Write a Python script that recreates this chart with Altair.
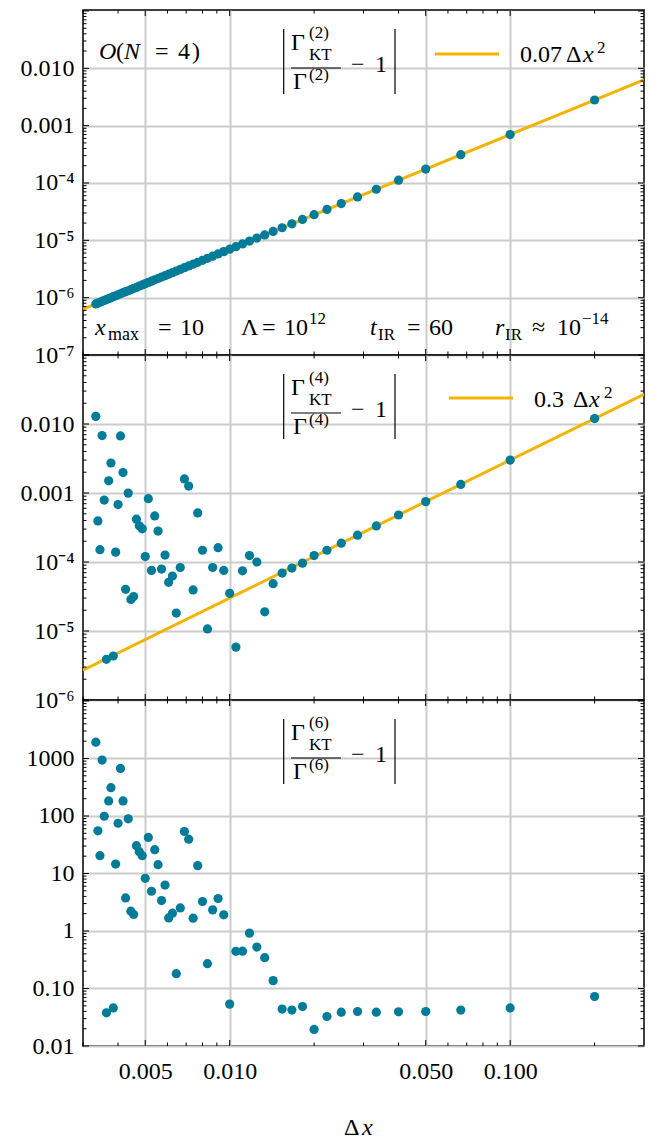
import altair as alt
import pandas as pd

# ---------------- data ----------------
dx = [0.2, 0.1, 0.066667, 0.05, 0.04, 0.033333, 0.028571, 0.025, 0.022222, 0.02,
      0.018182, 0.016667, 0.015385, 0.014286, 0.013333, 0.0125, 0.011765, 0.011111, 0.010526, 0.01,
      0.0095238, 0.0090909, 0.0086957, 0.0083333, 0.008, 0.0076923, 0.0074074, 0.0071429, 0.0068966, 0.0066667,
      0.0064516, 0.00625, 0.0060606, 0.0058824, 0.0057143, 0.0055556, 0.0054054, 0.0052632, 0.0051282, 0.005,
      0.004878, 0.0047619, 0.0046512, 0.0045455, 0.0044444, 0.0043478, 0.0042553, 0.0041667, 0.0040816, 0.004,
      0.0039216, 0.0038462, 0.0037736, 0.0037037, 0.0036364, 0.0035714, 0.0035088, 0.0034483, 0.0033898, 0.0033333]

err2 = [2.8e-3, 7.0e-4, 3.11e-4, 1.75e-4, 1.12e-4, 7.78e-5, 5.71e-5, 4.375e-5, 3.457e-5, 2.8e-5,
        2.314e-5, 1.944e-5, 1.657e-5, 1.429e-5, 1.244e-5, 1.094e-5, 9.69e-6, 8.64e-6, 7.76e-6, 7.0e-6,
        6.35e-6, 5.79e-6, 5.29e-6, 4.86e-6, 4.48e-6, 4.14e-6, 3.84e-6, 3.57e-6, 3.33e-6, 3.11e-6,
        2.91e-6, 2.73e-6, 2.57e-6, 2.42e-6, 2.29e-6, 2.16e-6, 2.05e-6, 1.94e-6, 1.84e-6, 1.75e-6,
        1.67e-6, 1.59e-6, 1.51e-6, 1.45e-6, 1.38e-6, 1.32e-6, 1.27e-6, 1.22e-6, 1.17e-6, 1.12e-6,
        1.08e-6, 1.04e-6, 9.97e-7, 9.60e-7, 9.26e-7, 8.93e-7, 8.62e-7, 8.32e-7, 8.04e-7, 7.78e-7]

err4 = [1.2e-2, 3.0e-3, 1.33e-3, 7.5e-4, 4.8e-4, 3.33e-4, 2.45e-4, 1.875e-4, 1.48e-4, 1.24e-4,
        9.63e-5, 8.16e-5, 6.92e-5, 4.85e-5, 1.90e-5, 1.00e-4, 1.24e-4, 7.46e-5, 5.84e-6, 3.52e-5,
        7.54e-5, 1.61e-4, 8.32e-5, 1.07e-5, 1.48e-4, 5.14e-4, 3.94e-5, 1.26e-3, 1.60e-3, 8.32e-5,
        1.82e-5, 6.26e-5, 5.07e-5, 1.26e-4, 7.89e-5, 2.81e-4, 4.65e-4, 7.54e-5, 8.28e-4, 1.20e-4,
        3.03e-4, 3.34e-4, 4.17e-4, 3.16e-5, 2.86e-5, 9.96e-4, 4.02e-5, 1.98e-3, 6.72e-3, 6.79e-4,
        1.39e-4, 4.34e-6, 2.72e-3, 1.50e-3, 3.89e-6, 7.9e-4, 6.79e-3, 1.51e-4, 3.94e-4, 1.29e-2]

err6 = [0.0723, 0.046, 0.0421, 0.0398, 0.0393, 0.0388, 0.0398, 0.0388, 0.0326, 0.0194,
        0.0485, 0.0421, 0.0438, 0.137, 0.343, 0.525, 0.918, 0.446, 0.443, 0.0535,
        1.91, 3.66, 2.33, 0.27, 3.25, 13.7, 1.67, 39.5, 53.7, 2.52,
        0.181, 2.04, 1.69, 6.3, 3.38, 14.2, 25.9, 4.91, 42.3, 8.24,
        20.4, 23.9, 30.4, 1.94, 2.21, 89.2, 3.75, 183, 671, 74.8,
        14.6, 0.046, 311, 183, 0.0378, 98.9, 938, 20.4, 55.2, 1923]

fit_coef_2 = 0.07
fit_coef_4 = 0.3

x_domain = [0.003, 0.3]
x_major = [0.005, 0.01, 0.05, 0.1]
x_minor = [0.003, 0.004, 0.006, 0.007, 0.008, 0.009, 0.02, 0.03, 0.04, 0.06, 0.07, 0.08, 0.09, 0.2]

y1_domain = [1e-7, 0.104]
y2_domain = [1e-6, 0.1]
y3_domain = [0.01, 10400]

y1_labels = [1e-7, 1e-6, 1e-5, 1e-4, 1e-3, 1e-2]
y2_labels = [1e-6, 1e-5, 1e-4, 1e-3, 1e-2]
y3_labels = [0.01, 0.1, 1, 10, 100, 1000]

# ---------------- style ----------------
FONT = "Liberation Serif"
PT = "#007c98"
FIT = "#f2b400"
W = 561
H1, H2, H3 = 345, 345, 346

xscale = alt.Scale(type="log", domain=x_domain, nice=False)
ONE = alt.Data(values=[{}])


def decades(lo, hi):
    return [10.0 ** e for e in range(lo, hi + 1)]


def minors(lo, hi):
    out = []
    for e in range(lo, hi):
        for m in range(2, 10):
            out.append(m * 10.0 ** e)
    return out


def txt(s, x, y, size=24, italic=False, align="left"):
    return alt.Chart(ONE).mark_text(
        text=s, font=FONT, fontSize=size, fontStyle="italic" if italic else "normal",
        align=align, baseline="alphabetic", color="black"
    ).encode(x=alt.value(x), y=alt.value(y))


def vrule(x, y1, y2, w=1.2, color="black"):
    return alt.Chart(ONE).mark_rule(color=color, strokeWidth=w).encode(
        x=alt.value(x), y=alt.value(y1), y2=alt.value(y2))


def hrule(x1, x2, y, w=1.2, color="black"):
    return alt.Chart(ONE).mark_rule(color=color, strokeWidth=w).encode(
        x=alt.value(x1), x2=alt.value(x2), y=alt.value(y))


def formula(n):
    return [
        vrule(200.7, 19, 84), vrule(312, 19, 84),
        txt("Γ", 208, 40), txt("(%d)" % n, 226, 28, 17), txt("KT", 226, 50, 17),
        hrule(208, 258, 58, 1.1),
        txt("Γ", 210, 79), txt("(%d)" % n, 226, 70, 17),
        txt("−", 268, 62), txt("1", 292, 62),
    ]


SMALL_LBL = ("datum.value > 0.0005 ? format(datum.value, '.3f') : datum.value > 5e-5 ? '10⁻⁴' : "
             "datum.value > 5e-6 ? '10⁻⁵' : datum.value > 5e-7 ? '10⁻⁶' : '10⁻⁷'")
BIG_LBL = "datum.value >= 1 ? format(datum.value, 'd') : format(datum.value, '.2f')"


def panel(vals, ydom, ylabels, ymaj, ymin, ylbl, H, show_x, coef, extra):
    yscale = alt.Scale(type="log", domain=ydom, nice=False)
    xaxis = alt.Axis(values=x_major, grid=True, ticks=False, tickSize=0, domain=False,
                     labels=show_x, labelExpr="format(datum.value, '.3f')", labelPadding=13,
                     title=None)
    yaxis = alt.Axis(values=ylabels, grid=True, ticks=False, tickSize=0, domain=False,
                     labelExpr=ylbl, labelPadding=9, labelBaseline="middle", title=None)

    def X(f):
        return alt.X(f, scale=xscale, axis=xaxis)

    def Y(f):
        return alt.Y(f, scale=yscale, axis=yaxis)

    layers = []
    if coef is not None:
        layers.append(alt.Chart(pd.DataFrame({"dx": x_domain})).transform_calculate(
            err="%g * datum.dx * datum.dx" % coef
        ).mark_line(color=FIT, strokeWidth=3, clip=True).encode(x=X("dx:Q"), y=Y("err:Q")))
    df = pd.DataFrame({"dx": dx, "err": vals})
    layers.append(alt.Chart(df).mark_circle(size=85, color=PT, opacity=1).encode(
        x=X("dx:Q"), y=Y("err:Q")))
    # inward ticks on all four sides
    for vals_, L in ((x_major, 6), (x_minor, 3.5)):
        d = pd.DataFrame({"dx": vals_})
        for y0, y1 in ((H, H - L), (0, L)):
            layers.append(alt.Chart(d).mark_rule(color="black", strokeWidth=1).encode(
                x=X("dx:Q"), y=alt.value(y0), y2=alt.value(y1)))
    for vals_, L in ((ymaj, 6), (ymin, 3.5)):
        d = pd.DataFrame({"err": vals_})
        for x0, x1 in ((0, L), (W, W - L)):
            layers.append(alt.Chart(d).mark_rule(color="black", strokeWidth=1).encode(
                y=Y("err:Q"), x=alt.value(x0), x2=alt.value(x1)))
    layers += extra
    return alt.layer(*layers).properties(width=W, height=H)


B = H1 - 20  # baseline of the parameter line in panel 1
extra1 = formula(2) + [
    hrule(352, 416, 44, 3, FIT),
    txt("0.07", 437, 52), txt("Δ", 483, 52), txt("x", 500, 52, italic=True), txt("2", 514, 43, 17),
    txt("O", 16, 49, italic=True), txt("(", 33, 49), txt("N", 41, 49, italic=True),
    txt("=", 72, 49), txt("4", 95, 49), txt(")", 109, 49),
    txt("x", 12, B, italic=True), txt("max", 25, B + 5, 18), txt("=", 75, B), txt("10", 97, B),
    txt("Λ", 158, B), txt("=", 179, B), txt("10", 201, B), txt("12", 226, B - 11, 17),
    txt("t", 287, B, italic=True), txt("IR", 295, B + 5, 17), txt("=", 324, B), txt("60", 346, B),
    txt("r", 412, B, italic=True), txt("IR", 422, B + 5, 17), txt("≈", 449, B),
    txt("10", 474, B), txt("−14", 499, B - 11, 17),
]

extra2 = formula(4) + [
    hrule(366, 430, 43, 3, FIT),
    txt("0.3", 451, 52), txt("Δ", 490, 52), txt("x", 506, 52, italic=True), txt("2", 521, 43, 17),
]

extra3 = formula(6) + [
    txt("Δ", 261, H3 + 89), txt("x", 279, H3 + 89, italic=True),
]

p1 = panel(err2, y1_domain, y1_labels, decades(-7, -1), minors(-7, -1), SMALL_LBL, H1, False, fit_coef_2, extra1)
p2 = panel(err4, y2_domain, y2_labels, decades(-6, -1), minors(-6, -1), SMALL_LBL, H2, False, fit_coef_4, extra2)
p3 = panel(err6, y3_domain, y3_labels, decades(-2, 4), minors(-2, 4), BIG_LBL, H3, True, None, extra3)

chart = alt.vconcat(p1, p2, p3, spacing=0, bounds="flush").properties(
    padding={"left": 11, "top": 0, "right": 4, "bottom": 40},
    background="white",
).configure_view(
    stroke="black", strokeWidth=1.5
).configure_axis(
    labelFont=FONT, labelFontSize=24, labelColor="black",
    gridColor="#cccccc", gridWidth=2, labelOverlap=False, labelFlush=False,
)

chart.save("out.html", embed_options={"renderer": "svg", "actions": False})
